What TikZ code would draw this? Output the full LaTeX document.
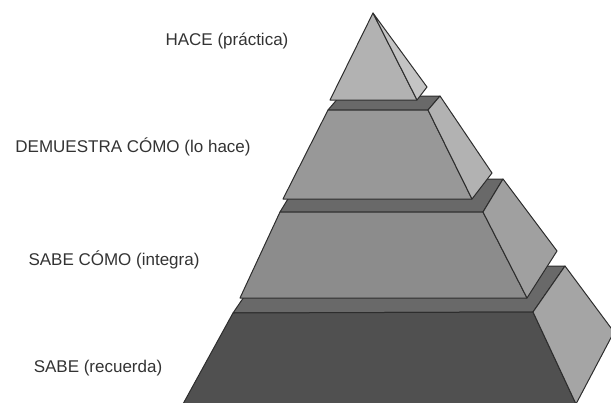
\documentclass[tikz,border=0pt]{standalone}
\usepackage{fontspec}
\setmainfont{Liberation Sans}
\definecolor{edgegray}{RGB}{45,45,45}
\definecolor{ledgegray}{RGB}{105,105,105}
\definecolor{topfront}{RGB}{178,178,178}
\definecolor{topside}{RGB}{196,196,196}
\definecolor{secfront}{RGB}{152,152,152}
\definecolor{secside}{RGB}{178,178,178}
\definecolor{thirdfront}{RGB}{140,140,140}
\definecolor{thirdside}{RGB}{160,160,160}
\definecolor{basefront}{RGB}{80,80,80}
\definecolor{baseside}{RGB}{165,165,165}
\tikzset{
  face/.style={draw=edgegray, line width=1pt, line join=round},
  level/.style={font=\fontsize{17}{20}\selectfont, text=black!80, inner sep=0pt}
}
\begin{document}
\begin{tikzpicture}[x=1pt,y=-1pt]
      \useasboundingbox (0,0) rectangle (611,402);
      % base tier
      \draw [face, fill=ledgegray] (233,313) -- (533,312) -- (565,266) -- (265,266) -- cycle;
      \draw [face, fill=basefront] (233,313) -- (533,312) -- (576,404) -- (183,404) -- cycle;
      \draw [face, fill=baseside] (533,312) -- (565,266) -- (614,332) -- (576,404) -- cycle;
      % third tier
      \draw [face, fill=ledgegray] (280,212) -- (483,212) -- (503,179) -- (300,179) -- cycle;
      \draw [face, fill=thirdfront] (280,212) -- (483,212) -- (527,298) -- (240,298) -- cycle;
      \draw [face, fill=thirdside] (483,212) -- (503,179) -- (557,251) -- (527,298) -- cycle;
      % second tier
      \draw [face, fill=ledgegray] (328,110) -- (428,110) -- (440,96) -- (340,96) -- cycle;
      \draw [face, fill=secfront] (328,110) -- (428,110) -- (472,199) -- (283,199) -- cycle;
      \draw [face, fill=secside] (428,110) -- (440,96) -- (492,173) -- (472,199) -- cycle;
      % top
      \draw [face, fill=topfront] (373,13) -- (417,100) -- (330,100) -- cycle;
      \draw [face, fill=topside] (373,13) -- (427,87) -- (417,100) -- cycle;
      % labels
      \node [level] (hace) at (227,41) {HACE (práctica)};
      \node [level] (demuestra) at (133,147) {DEMUESTRA CÓMO (lo hace)};
      \node [level] (sabecomo) at (114,260) {SABE CÓMO (integra)};
      \node [level] (sabe) at (98,368) {SABE (recuerda)};
    \end{tikzpicture}
\end{document}
